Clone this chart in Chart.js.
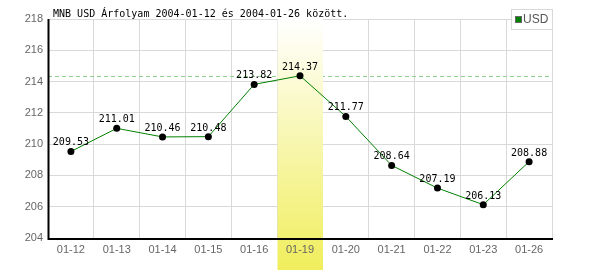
<!DOCTYPE html>
<html>
<head>
<meta charset="utf-8">
<script src="https://cdn.jsdelivr.net/npm/chart.js@4/dist/chart.umd.min.js"></script>
<style>
html,body{margin:0;padding:0;background:#fff;}
#wrap{width:600px;height:270px;position:relative;}
</style>
</head>
<body>
<div id="wrap"><canvas id="c" width="600" height="270"></canvas></div>
<script>
const titleText = "MNB USD Árfolyam 2004-01-12 és 2004-01-26 között.";
const categories = ["01-12","01-13","01-14","01-15","01-16","01-19","01-20","01-21","01-22","01-23","01-26"];
const usdValues = [209.53, 211.01, 210.46, 210.48, 213.82, 214.37, 211.77, 208.64, 207.19, 206.13, 208.88];
const yTicks = [204, 206, 208, 210, 212, 214, 216, 218];
const seriesName = "USD";
const highlightCategory = "01-19";

const GRID = '#d9d9d9';
const MONO = '11px "DejaVu Sans Mono", monospace';
const SX = 0.91;

function monoText(ctx, text, x, y, align) {
  ctx.save();
  ctx.font = MONO;
  ctx.textAlign = align;
  ctx.translate(x, y);
  ctx.scale(SX, 1);
  ctx.fillText(text, 0, 0);
  ctx.restore();
}

const decoPlugin = {
  id: 'deco',
  beforeDatasetsDraw(chart) {
    const ctx = chart.ctx, a = chart.chartArea;
    const x = chart.scales.x, y = chart.scales.y;
    const maxV = Math.max(...usdValues);
    const ym = Math.round(y.getPixelForValue(maxV)) + 0.5;
    ctx.save();
    ctx.strokeStyle = '#8fd08f';
    ctx.lineWidth = 1;
    ctx.setLineDash([4, 3]);
    ctx.beginPath();
    ctx.moveTo(a.left, ym);
    ctx.lineTo(a.right, ym);
    ctx.stroke();
    ctx.restore();
    const idx = categories.indexOf(highlightCategory);
    const cx = x.getPixelForValue(idx);
    const half = (a.right - a.left) / categories.length / 2;
    const g = ctx.createLinearGradient(0, a.top, 0, chart.height);
    g.addColorStop(0, '#ffffff');
    g.addColorStop(1, '#f0ee5c');
    ctx.save();
    ctx.fillStyle = g;
    ctx.fillRect(Math.round(cx - half) + 0.5, a.top, Math.round(2 * half) - 0.5, chart.height - a.top);
    ctx.strokeStyle = '#000';
    ctx.lineWidth = 2;
    ctx.beginPath();
    ctx.moveTo(a.left + 0.5, a.top);
    ctx.lineTo(a.left + 0.5, a.bottom + 1);
    ctx.lineTo(a.right + 1, a.bottom + 1);
    ctx.stroke();
    ctx.restore();
  },
  afterDatasetsDraw(chart) {
    const ctx = chart.ctx;
    const meta = chart.getDatasetMeta(0);
    ctx.save();
    ctx.fillStyle = '#000';
    ctx.textBaseline = 'alphabetic';
    meta.data.forEach((pt, i) => {
      monoText(ctx, usdValues[i].toFixed(2), pt.x, pt.y - 6, 'center');
    });
    ctx.restore();
  },
  afterDraw(chart) {
    const ctx = chart.ctx;
    ctx.save();
    ctx.fillStyle = '#000';
    ctx.textBaseline = 'alphabetic';
    monoText(ctx, titleText, 53, 17, 'left');
    ctx.fillStyle = '#fff';
    ctx.fillRect(511, 9, 41, 20);
    ctx.strokeStyle = GRID;
    ctx.lineWidth = 1;
    ctx.strokeRect(511.5, 9.5, 41, 20);
    ctx.fillStyle = '#008000';
    ctx.fillRect(515, 16, 7, 7);
    ctx.strokeStyle = '#666';
    ctx.strokeRect(515.5, 16.5, 6, 6);
    ctx.font = '12px "Liberation Sans Narrow", "Liberation Sans", sans-serif';
    ctx.fillStyle = '#555';
    ctx.textAlign = 'left';
    ctx.textBaseline = 'middle';
    ctx.fillText(seriesName, 523, 20);
    ctx.restore();
  }
};

new Chart(document.getElementById('c'), {
  type: 'line',
  data: {
    labels: categories,
    datasets: [{
      label: seriesName,
      data: usdValues,
      borderColor: '#008000',
      borderWidth: 1,
      tension: 0,
      pointRadius: 3.5,
      pointBackgroundColor: '#000',
      pointBorderColor: '#000',
      pointBorderWidth: 0,
      fill: false
    }]
  },
  options: {
    responsive: false,
    animation: false,
    devicePixelRatio: 1,
    layout: { padding: { top: 19, right: 48, left: 0, bottom: 0 } },
    plugins: { legend: { display: false }, title: { display: false }, tooltip: { enabled: false } },
    scales: {
      x: {
        type: 'category',
        offset: true,
        grid: { color: GRID, offset: true, drawTicks: false, z: -1 },
        border: { display: false },
        ticks: { color: '#666', font: { family: '"Liberation Sans", Arial, sans-serif', size: 11 }, padding: 5, maxRotation: 0, autoSkip: false, z: 1 },
        afterFit(s) { s.height = 32; }
      },
      y: {
        min: 204, max: 218,
        grid: { color: GRID, drawTicks: false },
        border: { display: false },
        afterBuildTicks(s) { s.ticks = yTicks.map(v => ({ value: v })); },
        ticks: { color: '#666', font: { family: '"Liberation Sans", Arial, sans-serif', size: 11 }, padding: 5 },
        afterFit(s) { s.width = 48; }
      }
    }
  },
  plugins: [decoPlugin]
});
</script>
</body>
</html>
